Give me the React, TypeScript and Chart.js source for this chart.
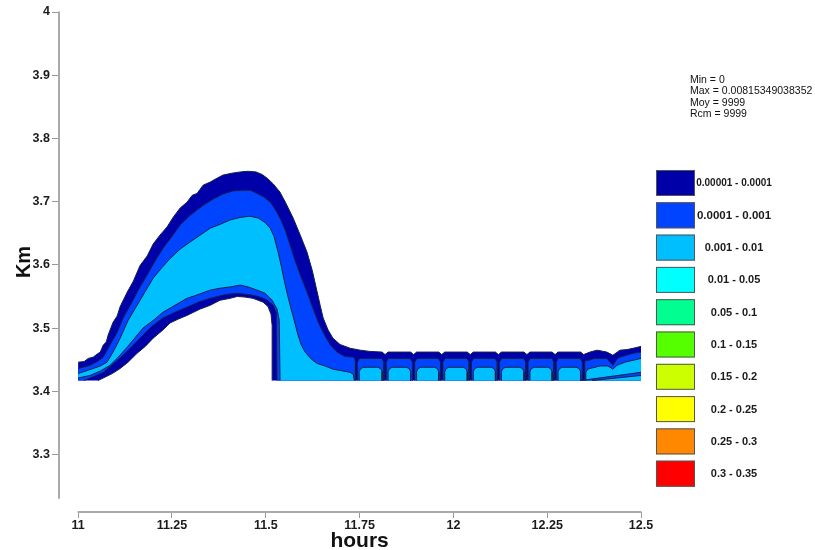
import React, { useEffect, useRef } from "react";
import { Chart, registerables } from "chart.js";

Chart.register(...registerables);

// ---- axes / ticks ----
const X_TICKS = [11, 11.25, 11.5, 11.75, 12, 12.25, 12.5];
const Y_TICKS = [3.3, 3.4, 3.5, 3.6, 3.7, 3.8, 3.9, 4];
const X_MIN = 10.949;
const X_MAX = 12.5;
const Y_MIN = 3.209;
const Y_MAX = 4;
const Y_AXIS_BOTTOM = 3.23;
const X_TITLE = "hours";
const Y_TITLE = "Km";

// ---- legend / stats ----
const LEVEL_LABELS = [
  "0.00001 - 0.0001",
  "0.0001 - 0.001",
  "0.001 - 0.01",
  "0.01 - 0.05",
  "0.05 - 0.1",
  "0.1 - 0.15",
  "0.15 - 0.2",
  "0.2 - 0.25",
  "0.25 - 0.3",
  "0.3 - 0.35",
];
const LEVEL_COLORS = [
  "#0000a8",
  "#0044ff",
  "#00bfff",
  "#00ffff",
  "#00ff90",
  "#55ff00",
  "#ccff00",
  "#ffff00",
  "#ff8800",
  "#ff0000",
];
const STATS = ["Min = 0", "Max = 0.00815349038352", "Moy = 9999", "Rcm = 9999"];

// ---- contour regions (hours, km) ----
const DATA_BOTTOM = 3.417;

// level 0.00001 - 0.0001 (outer)
const DARK_X = [
  11.0, 11.0, 11.016, 11.027, 11.04, 11.051, 11.059, 11.067, 11.075, 11.08, 11.093, 11.104, 11.112,
  11.131, 11.147, 11.165, 11.184, 11.2, 11.218, 11.237, 11.253, 11.272, 11.29, 11.304, 11.317,
  11.333, 11.352, 11.37, 11.386, 11.41, 11.432, 11.453, 11.474, 11.49, 11.504, 11.52, 11.538,
  11.554, 11.573, 11.592, 11.61, 11.624, 11.637, 11.645, 11.653, 11.666, 11.679, 11.698, 11.725,
  11.752, 11.778,
  11.81, 11.818, 11.826, 11.886, 11.894, 11.902, 11.961, 11.969, 11.977, 12.037, 12.045, 12.053,
  12.112, 12.12, 12.128, 12.188, 12.196, 12.204, 12.263, 12.271, 12.279, 12.339, 12.347,
  12.364, 12.383, 12.409, 12.425, 12.444, 12.463, 12.479, 12.5,
  12.5, 11.517,
  11.517, 11.514, 11.506, 11.493, 11.466, 11.445, 11.424, 11.405, 11.378, 11.352, 11.325, 11.29,
  11.266, 11.245, 11.226, 11.2, 11.179, 11.157, 11.133, 11.112, 11.091, 11.067, 11.053,
];
const DARK_Y = [
  3.417, 3.446, 3.447, 3.452, 3.454, 3.459, 3.462, 3.473, 3.478, 3.489, 3.509, 3.519, 3.534,
  3.557, 3.574, 3.599, 3.614, 3.633, 3.647, 3.66, 3.675, 3.69, 3.699, 3.71, 3.713,
  3.726, 3.731, 3.737, 3.742, 3.745, 3.747, 3.748, 3.747, 3.743, 3.737, 3.728, 3.715,
  3.697, 3.674, 3.647, 3.62, 3.591, 3.557, 3.536, 3.516, 3.497, 3.484, 3.474, 3.468,
  3.465, 3.463,
  3.462, 3.458, 3.462, 3.462, 3.458, 3.462, 3.462, 3.458, 3.462, 3.462, 3.458, 3.462,
  3.462, 3.458, 3.462, 3.462, 3.458, 3.462, 3.462, 3.458, 3.462, 3.462, 3.458,
  3.462, 3.465, 3.462, 3.457, 3.465, 3.466, 3.468, 3.471,
  3.417, 3.417,
  3.504, 3.522, 3.534, 3.541, 3.547, 3.549, 3.55, 3.547, 3.544, 3.536, 3.53, 3.52,
  3.514, 3.508, 3.497, 3.484, 3.471, 3.46, 3.446, 3.436, 3.428, 3.421, 3.417,
];

// level 0.0001 - 0.001
const MID_X = [
  11.0, 11.0, 11.032, 11.051, 11.067, 11.085, 11.104, 11.12, 11.139, 11.16, 11.184, 11.205, 11.226,
  11.25, 11.272, 11.298, 11.333, 11.36, 11.386, 11.413, 11.44, 11.458, 11.477, 11.496, 11.512,
  11.525, 11.538, 11.552, 11.565, 11.578, 11.592, 11.61, 11.626, 11.64, 11.653, 11.671, 11.69,
  11.711, 11.733, 11.737, 11.739, 11.739,
  11.744, 11.744, 11.75, 11.809, 11.815, 11.815,
  11.821, 11.821, 11.827, 11.885, 11.891, 11.891,
  11.897, 11.897, 11.903, 11.96, 11.966, 11.966,
  11.972, 11.972, 11.978, 12.036, 12.042, 12.042,
  12.048, 12.048, 12.054, 12.111, 12.117, 12.117,
  12.123, 12.123, 12.129, 12.187, 12.193, 12.193,
  12.199, 12.199, 12.205, 12.262, 12.268, 12.268,
  12.274, 12.274, 12.28, 12.338, 12.344, 12.344,
  12.35, 12.35, 12.362, 12.375, 12.409, 12.425, 12.436, 12.444, 12.479, 12.5, 12.5,
  11.53,
  11.528, 11.52, 11.504, 11.485, 11.466, 11.424, 11.392, 11.352, 11.32, 11.29, 11.258, 11.226,
  11.197, 11.173, 11.147, 11.12, 11.093, 11.067, 11.045, 11.024, 11.016,
];
const MID_Y = [
  3.417, 3.436, 3.441, 3.447, 3.454, 3.473, 3.493, 3.516, 3.536, 3.56, 3.584, 3.606, 3.626,
  3.645, 3.663, 3.678, 3.694, 3.704, 3.712, 3.717, 3.718, 3.718, 3.713, 3.707, 3.699,
  3.688, 3.674, 3.655, 3.631, 3.607, 3.584, 3.557, 3.531, 3.509, 3.493, 3.474, 3.462,
  3.455, 3.454, 3.452, 3.446, 3.417,
  3.417, 3.446, 3.452, 3.452, 3.446, 3.417,
  3.417, 3.446, 3.452, 3.452, 3.446, 3.417,
  3.417, 3.446, 3.452, 3.452, 3.446, 3.417,
  3.417, 3.446, 3.452, 3.452, 3.446, 3.417,
  3.417, 3.446, 3.452, 3.452, 3.446, 3.417,
  3.417, 3.446, 3.452, 3.452, 3.446, 3.417,
  3.417, 3.446, 3.452, 3.452, 3.446, 3.417,
  3.417, 3.446, 3.452, 3.452, 3.446, 3.417,
  3.417, 3.448, 3.449, 3.452, 3.452, 3.441, 3.451, 3.454, 3.46, 3.462, 3.417,
  3.417,
  3.525, 3.536, 3.544, 3.549, 3.552, 3.555, 3.553, 3.547, 3.541, 3.533, 3.525, 3.516,
  3.503, 3.489, 3.473, 3.457, 3.443, 3.43, 3.424, 3.419, 3.417,
];

// level 0.001 - 0.01
const LIGHT_X = [
  11.0, 11.0, 11.04, 11.059, 11.077, 11.093, 11.112, 11.133, 11.157, 11.179, 11.2, 11.224, 11.245,
  11.272, 11.298, 11.325, 11.352, 11.378, 11.405, 11.432, 11.458, 11.48, 11.498, 11.512, 11.522,
  11.533, 11.541, 11.549, 11.557, 11.565, 11.576, 11.584, 11.594, 11.605, 11.621, 11.637, 11.658,
  11.679, 11.706, 11.725, 11.733, 11.736,
  11.749, 11.749, 11.753, 11.761, 11.798, 11.806, 11.81, 11.81,
  11.826, 11.826, 11.83, 11.838, 11.874, 11.882, 11.886, 11.886,
  11.902, 11.902, 11.906, 11.914, 11.949, 11.957, 11.961, 11.961,
  11.977, 11.977, 11.981, 11.989, 12.025, 12.033, 12.037, 12.037,
  12.053, 12.053, 12.057, 12.065, 12.1, 12.108, 12.112, 12.112,
  12.128, 12.128, 12.132, 12.14, 12.176, 12.184, 12.188, 12.188,
  12.204, 12.204, 12.208, 12.216, 12.251, 12.259, 12.263, 12.263,
  12.279, 12.279, 12.283, 12.291, 12.327, 12.335, 12.339, 12.339,
  12.353, 12.353, 12.358, 12.364, 12.391, 12.412, 12.425, 12.436, 12.457, 12.479, 12.5, 12.5,
  11.538,
  11.536, 11.53, 11.517, 11.498, 11.477, 11.453, 11.432, 11.405, 11.378, 11.352, 11.32, 11.29,
  11.258, 11.226, 11.2, 11.173, 11.152, 11.131, 11.107, 11.085, 11.059, 11.032, 11.0,
];
const LIGHT_Y = [
  3.421, 3.428, 3.436, 3.44, 3.446, 3.462, 3.484, 3.512, 3.536, 3.558, 3.579, 3.596, 3.61,
  3.625, 3.636, 3.647, 3.658, 3.664, 3.671, 3.675, 3.677, 3.674, 3.667, 3.658, 3.645,
  3.62, 3.599, 3.576, 3.555, 3.536, 3.512, 3.493, 3.474, 3.462, 3.451, 3.444, 3.44,
  3.435, 3.432, 3.43, 3.427, 3.417,
  3.417, 3.431, 3.436, 3.438, 3.438, 3.436, 3.431, 3.417,
  3.417, 3.431, 3.436, 3.438, 3.438, 3.436, 3.431, 3.417,
  3.417, 3.431, 3.436, 3.438, 3.438, 3.436, 3.431, 3.417,
  3.417, 3.431, 3.436, 3.438, 3.438, 3.436, 3.431, 3.417,
  3.417, 3.431, 3.436, 3.438, 3.438, 3.436, 3.431, 3.417,
  3.417, 3.431, 3.436, 3.438, 3.438, 3.436, 3.431, 3.417,
  3.417, 3.431, 3.436, 3.438, 3.438, 3.436, 3.431, 3.417,
  3.417, 3.431, 3.436, 3.438, 3.438, 3.436, 3.431, 3.417,
  3.417, 3.43, 3.435, 3.436, 3.44, 3.44, 3.435, 3.441, 3.446, 3.449, 3.452, 3.417,
  3.417,
  3.512, 3.53, 3.544, 3.555, 3.56, 3.565, 3.568, 3.565, 3.563, 3.56, 3.553, 3.547,
  3.536, 3.525, 3.512, 3.5, 3.485, 3.47, 3.454, 3.441, 3.432, 3.425, 3.421,
];

// thin 0.0001 - 0.001 streak in the right-hand wedge
const STREAK_X = [12.34, 12.5, 12.5, 12.37];
const STREAK_Y = [3.417, 3.43, 3.425, 3.417];

const FONT = "'Liberation Sans', Arial, Helvetica, sans-serif";
const CONTOUR_LINE = "#15204a";
const AXIS_GRAY = "#aaaaaa";

const hiddenEdge = (ctx: any) => {
  const a = ctx.p0.parsed;
  const b = ctx.p1.parsed;
  const eps = 1e-6;
  if (a.y <= DATA_BOTTOM + eps && b.y <= DATA_BOTTOM + eps) return "rgba(0,0,0,0)";
  if (a.x >= X_MAX - eps && b.x >= X_MAX - eps) return "rgba(0,0,0,0)";
  if (a.x <= 11 + eps && b.x <= 11 + eps) return "rgba(0,0,0,0)";
  return undefined;
};

const toPoints = (xs: number[], ys: number[]) => xs.map((x, i) => ({ x, y: ys[i] }));

// filled area of one contour level
const regionFill = (xs: number[], ys: number[], color: string, order: number, label: string) => ({
  label,
  data: toPoints(xs, ys),
  backgroundColor: color,
  borderColor: color,
  borderWidth: 0,
  fill: "shape",
  pointRadius: 0,
  pointHoverRadius: 0,
  tension: 0,
  order,
});

// contour line around that level (cut edges at the data border are hidden)
const regionLine = (xs: number[], ys: number[], order: number, label: string) => ({
  label,
  data: toPoints(xs, ys),
  backgroundColor: "rgba(0,0,0,0)",
  borderColor: CONTOUR_LINE,
  borderWidth: 1,
  fill: false,
  pointRadius: 0,
  pointHoverRadius: 0,
  tension: 0,
  order,
  segment: { borderColor: hiddenEdge },
});

const decorPlugin = {
  id: "decor",
  afterDraw(chart: any) {
    const { ctx, scales, chartArea } = chart;
    const xs = scales.x;
    const ys = scales.y;
    ctx.save();
    // axis lines (detached)
    ctx.strokeStyle = AXIS_GRAY;
    ctx.lineWidth = 2;
    ctx.beginPath();
    ctx.moveTo(chartArea.left, ys.getPixelForValue(Y_TICKS[Y_TICKS.length - 1]) - 0.5);
    ctx.lineTo(chartArea.left, ys.getPixelForValue(Y_AXIS_BOTTOM));
    ctx.stroke();
    ctx.beginPath();
    ctx.moveTo(xs.getPixelForValue(X_TICKS[0]) - 0.5, chartArea.bottom);
    ctx.lineTo(xs.getPixelForValue(X_TICKS[X_TICKS.length - 1]) + 0.5, chartArea.bottom);
    ctx.stroke();

    // axis titles
    ctx.fillStyle = "#111";
    ctx.textAlign = "center";
    ctx.textBaseline = "alphabetic";
    ctx.font = `bold 21px ${FONT}`;
    const xMid = (xs.getPixelForValue(X_TICKS[0]) + xs.getPixelForValue(X_TICKS[X_TICKS.length - 1])) / 2;
    ctx.fillText(X_TITLE, xMid, 547);
    ctx.save();
    ctx.translate(30, (chartArea.top + chartArea.bottom) / 2);
    ctx.rotate(-Math.PI / 2);
    ctx.font = `bold 20px ${FONT}`;
    ctx.fillText(Y_TITLE, 0, 0);
    ctx.restore();

    // stats
    ctx.textAlign = "left";
    ctx.textBaseline = "middle";
    ctx.font = `10.5px ${FONT}`;
    ctx.fillStyle = "#111";
    STATS.forEach((s, i) => ctx.fillText(s, 690, 80 + i * 11.5));

    // legend
    LEVEL_LABELS.forEach((lab, i) => {
      const top = 170 + i * 32.3;
      ctx.fillStyle = LEVEL_COLORS[i];
      ctx.fillRect(656, top, 39, 26);
      ctx.strokeStyle = "#555";
      ctx.lineWidth = 1;
      ctx.strokeRect(656.5, top + 0.5, 38, 25);
      ctx.fillStyle = "#1a1a1a";
      ctx.textAlign = "center";
      ctx.font = `bold ${i === 0 ? 10 : i === 1 ? 11.5 : 11}px ${FONT}`;
      ctx.fillText(lab, 734, top + 13.5);
    });
    ctx.restore();
  },
};

export default function App() {
  const ref = useRef<HTMLCanvasElement | null>(null);
  useEffect(() => {
    if (!ref.current) return;
    const chart = new Chart(ref.current, {
      type: "line",
      data: {
        datasets: [
          regionLine(STREAK_X, STREAK_Y, 0, LEVEL_LABELS[1]),
          regionFill(STREAK_X, STREAK_Y, LEVEL_COLORS[1], 1, LEVEL_LABELS[1]),
          regionLine(LIGHT_X, LIGHT_Y, 2, LEVEL_LABELS[2]),
          regionFill(LIGHT_X, LIGHT_Y, LEVEL_COLORS[2], 3, LEVEL_LABELS[2]),
          regionLine(MID_X, MID_Y, 4, LEVEL_LABELS[1]),
          regionFill(MID_X, MID_Y, LEVEL_COLORS[1], 5, LEVEL_LABELS[1]),
          regionLine(DARK_X, DARK_Y, 6, LEVEL_LABELS[0]),
          regionFill(DARK_X, DARK_Y, LEVEL_COLORS[0], 7, LEVEL_LABELS[0]),
        ] as any,
      },
      options: {
        responsive: false,
        devicePixelRatio: 1,
        animation: false,
        events: [],
        layout: { padding: { left: 0, top: 12, right: 174, bottom: 0 } },
        plugins: { legend: { display: false }, tooltip: { enabled: false }, title: { display: false } },
        scales: {
          x: {
            type: "linear",
            min: X_MIN,
            max: X_MAX,
            afterBuildTicks: (axis: any) => {
              axis.ticks = X_TICKS.map((v) => ({ value: v }));
            },
            afterFit: (axis: any) => {
              axis.height = 38;
            },
            border: { display: false },
            grid: { drawOnChartArea: false, drawTicks: true, tickLength: 6, color: "#999", lineWidth: 1 },
            ticks: {
              padding: 0,
              color: "#1a1a1a",
              font: { family: FONT, size: 12.5, weight: "bold" },
              maxRotation: 0,
              autoSkip: false,
              callback: (v: any) => String(+Number(v).toFixed(2)),
            },
          },
          y: {
            type: "linear",
            min: Y_MIN,
            max: Y_MAX,
            afterBuildTicks: (axis: any) => {
              axis.ticks = Y_TICKS.map((v) => ({ value: v }));
            },
            afterFit: (axis: any) => {
              axis.width = 59;
            },
            border: { display: false },
            grid: { drawOnChartArea: false, drawTicks: true, tickLength: 7, color: "#999", lineWidth: 1 },
            ticks: {
              padding: 2,
              color: "#1a1a1a",
              font: { family: FONT, size: 12.5, weight: "bold" },
              autoSkip: false,
              callback: (v: any) => String(+Number(v).toFixed(2)),
            },
          },
        },
      } as any,
      plugins: [decorPlugin],
    });
    return () => chart.destroy();
  }, []);
  return (
    <div style={{ position: "absolute", left: 0, top: 0, width: 815, height: 550, background: "#fff" }}>
      <canvas ref={ref} width={815} height={550} />
    </div>
  );
}
